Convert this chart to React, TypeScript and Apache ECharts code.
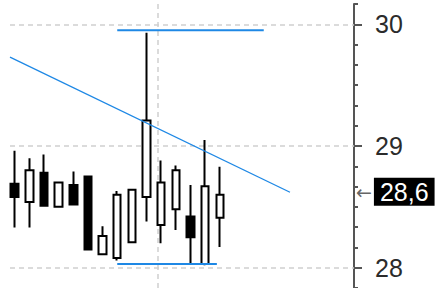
import React, { useEffect, useRef } from "react";
import * as echarts from "echarts";

// Candles (index 0..14)
const opens = [28.69, 28.54, 28.78, 28.5, 28.68, 28.75, 28.11, 28.08, 28.21, 28.58, 28.35, 28.48, 28.42, 28.03, 28.41];
const closes = [28.58, 28.8, 28.51, 28.7, 28.52, 28.15, 28.26, 28.6, 28.64, 29.21, 28.7, 28.8, 28.25, 28.67, 28.6];
const lows = [28.33, 28.33, 28.51, 28.5, 28.52, 28.15, 28.11, 28.06, 28.21, 28.38, 28.2, 28.31, 28.03, 28.02, 28.17];
const highs = [28.96, 28.9, 28.93, 28.7, 28.79, 28.75, 28.34, 28.63, 28.64, 29.93, 28.88, 28.84, 28.68, 29.05, 28.83];

// Drawn lines (x in candle-index units)
const trendX = [-0.32, 18.79];
const trendY = [29.73, 28.62];
const resistanceX = [7, 17];
const resistanceY = 29.95;
const supportX = [7, 13.8];
const supportY = 28.03;

// Axis
const yLabels = [28, 29, 30];
const yMin = 167 / 6;
const yMax = 181 / 6;
const yMinorStep = 1 / 6;
const xMin = -0.32;
const xMax = 23.16;
const sessionLineX = 9.76;

export default function App() {
  const ref = useRef<HTMLDivElement>(null);
  useEffect(() => {
    if (!ref.current) return;
    const chart = echarts.init(ref.current, undefined, { renderer: "svg" });
    const candleData = opens.map((o, i) => [i, o, closes[i], lows[i], highs[i]]);
    const last = closes[closes.length - 1];
    const lastLabel = last.toFixed(1).replace(".", ",");
    const blue = "#1e88e5";
    const grey = "#cfcfcf";
    chart.setOption({
      animation: false,
      backgroundColor: "#ffffff",
      grid: { left: 10, right: 83, top: 4, height: 286 },
      xAxis: { type: "value", min: xMin, max: xMax, show: false },
      yAxis: [
        {
          type: "value",
          position: "right",
          min: yMin,
          max: yMax,
          interval: yMinorStep,
          axisLine: { show: true, onZero: false, lineStyle: { color: "#555", width: 2 } },
          axisTick: { show: true, length: 4, lineStyle: { color: "#555", width: 2 } },
          axisLabel: { show: false },
          splitLine: { show: false },
        },
        {
          type: "value",
          position: "right",
          min: yMin,
          max: yMax,
          axisLine: { show: false, onZero: false },
          axisTick: { show: true, length: 8, customValues: yLabels, lineStyle: { color: "#555", width: 2 } },
          axisLabel: {
            show: true,
            customValues: yLabels,
            margin: 21,
            fontSize: 25,
            fontFamily: "Liberation Sans",
            color: "#2b2b2b",
          },
          splitLine: { show: false },
        },
      ],
      series: [
        {
          type: "line",
          data: [],
          z: 1,
          markLine: {
            silent: true,
            z: 1,
            symbol: "none",
            label: { show: false },
            lineStyle: { color: grey, type: [5, 4], width: 1.5 },
            data: [...yLabels.map((v) => ({ yAxis: v })), { xAxis: sessionLineX }],
          },
        },
        {
          type: "candlestick",
          data: candleData,
          barWidth: 8,
          clip: false,
          z: 2,
          itemStyle: {
            color: "#ffffff",
            color0: "#000000",
            borderColor: "#000000",
            borderColor0: "#000000",
            borderWidth: 2,
          },
        },
        {
          type: "line",
          z: 3,
          symbol: "none",
          data: trendX.map((x, i) => [x, trendY[i]]),
          lineStyle: { color: blue, width: 1.3 },
        },
        {
          type: "line",
          z: 3,
          symbol: "none",
          data: resistanceX.map((x) => [x, resistanceY]),
          lineStyle: { color: blue, width: 2 },
        },
        {
          type: "line",
          z: 3,
          symbol: "none",
          data: supportX.map((x) => [x, supportY]),
          lineStyle: { color: blue, width: 2 },
        },
        {
          type: "line",
          data: [],
          z: 5,
          markLine: {
            silent: true,
            z: 5,
            symbol: "none",
            lineStyle: { color: "rgba(0,0,0,0)", width: 0 },
            label: {
              show: true,
              position: "end",
              distance: 2,
              formatter: "{a|←}{b|" + lastLabel + "}",
              offset: [0, -3],
              rich: {
                a: { fontFamily: "DejaVu Sans", fontSize: 19, color: "#666", padding: [0, 2, 0, 0] },
                b: {
                  fontFamily: "Liberation Sans",
                  fontSize: 25,
                  color: "#ffffff",
                  backgroundColor: "#000000",
                  padding: [2, 6, 1, 6],
                  lineHeight: 27,
                },
              },
            },
            data: [{ yAxis: last }],
          },
        },
      ],
    });
    return () => chart.dispose();
  }, []);
  return <div ref={ref} style={{ position: "fixed", left: 0, top: 0, width: 437, height: 288 }} />;
}
